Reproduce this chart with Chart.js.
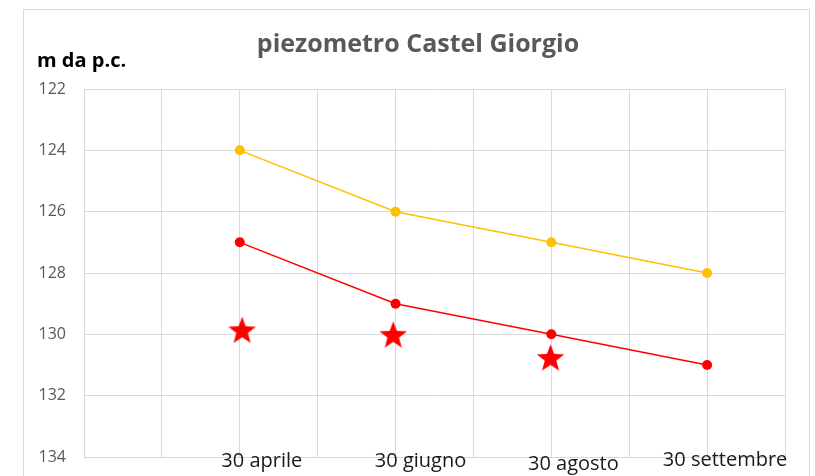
<!DOCTYPE html>
<html>
<head>
<meta charset="utf-8">
<script src="https://cdn.jsdelivr.net/npm/chart.js@4/dist/chart.umd.min.js"></script>
<style>
  html, body { margin: 0; padding: 0; background: #ffffff; }
  #wrap { width: 815px; height: 476px; }
</style>
</head>
<body>
<div id="wrap"><canvas id="c" width="815" height="476"></canvas></div>
<script>
// ---- data ----
const chartTitle = 'piezometro Castel Giorgio';
const yAxisLabel = 'm da p.c.';
const dateLabels = ['30 aprile', '30 giugno', '30 agosto', '30 settembre'];
const monthPos = [2, 4, 6, 8];               // x position (months) of each date
const seriesYellow = [124, 126, 127, 128];
const seriesRed = [127, 129, 130, 131];
const starPos = [2.03, 3.97, 5.99];
const starValues = [129.85, 130.0, 130.75];
const yTicks = [122, 124, 126, 128, 130, 132, 134];

// filled five-point star as point style
function makeStar(r, color) {
  const c = document.createElement('canvas');
  const s = Math.ceil(r * 2 + 2);
  c.width = s; c.height = s;
  const g = c.getContext('2d');
  const cx = s / 2, cy = s / 2 + r * 0.1;
  const ri = r * 0.42;
  g.beginPath();
  for (let i = 0; i < 10; i++) {
    const rr = i % 2 === 0 ? r : ri;
    const a = -Math.PI / 2 + i * Math.PI / 5;
    const px = cx + rr * Math.cos(a), py = cy + rr * Math.sin(a);
    if (i === 0) g.moveTo(px, py); else g.lineTo(px, py);
  }
  g.closePath();
  g.fillStyle = color;
  g.fill();
  return c;
}
const starImg = makeStar(14.5, '#ff0000');

const decor = {
  id: 'decor',
  beforeDraw(chart) {
    const ctx = chart.ctx;
    ctx.save();
    ctx.fillStyle = '#ffffff';
    ctx.fillRect(0, 0, chart.width, chart.height);
    ctx.strokeStyle = '#d9d9d9';
    ctx.lineWidth = 1;
    ctx.strokeRect(23.5, 9.5, 786, 480);
    ctx.restore();
  },
  afterDraw(chart) {
    const ctx = chart.ctx;
    const xs = chart.scales.x;
    ctx.save();
    // title
    ctx.fillStyle = '#595959';
    ctx.font = 'bold 25px "Open Sans"';
    ctx.textAlign = 'center';
    ctx.textBaseline = 'middle';
    ctx.fillText(chartTitle, 418, 45);
    // y axis label
    ctx.fillStyle = '#000000';
    ctx.font = 'bold 20px "Open Sans"';
    ctx.textAlign = 'left';
    ctx.textBaseline = 'alphabetic';
    ctx.fillText(yAxisLabel, 37, 67);
    // date labels
    ctx.font = '20px "Open Sans"';
    ctx.fillStyle = '#1a1a1a';
    ctx.textAlign = 'center';
    const dy = [0, 0, 3, -1];
    const dx = [22, 25, 22, 18];
    dateLabels.forEach((t, i) => {
      ctx.fillText(t, xs.getPixelForValue(monthPos[i]) + dx[i], 467 + dy[i]);
    });
    ctx.restore();
  }
};

new Chart(document.getElementById('c'), {
  type: 'line',
  data: {
    datasets: [
      {
        label: 'A',
        data: monthPos.map((x, i) => ({ x, y: seriesYellow[i] })),
        borderColor: '#ffc000',
        backgroundColor: '#ffc000',
        borderWidth: 1.5,
        pointRadius: 5,
        pointHoverRadius: 5,
        pointBorderWidth: 0
      },
      {
        label: 'B',
        data: monthPos.map((x, i) => ({ x, y: seriesRed[i] })),
        borderColor: '#ff0000',
        backgroundColor: '#ff0000',
        borderWidth: 1.5,
        pointRadius: 5,
        pointHoverRadius: 5,
        pointBorderWidth: 0
      },
      {
        label: 'C',
        data: starPos.map((x, i) => ({ x, y: starValues[i] })),
        showLine: false,
        pointStyle: starImg,
        borderColor: '#ff0000',
        backgroundColor: '#ff0000'
      }
    ]
  },
  options: {
    responsive: false,
    animation: false,
    devicePixelRatio: 1,
    layout: { padding: { left: 23, right: 30, top: 89, bottom: 19 } },
    plugins: {
      legend: { display: false },
      tooltip: { enabled: false },
      title: { display: false }
    },
    scales: {
      x: {
        type: 'linear',
        min: 0,
        max: 9,
        ticks: { display: false, stepSize: 1 },
        grid: { color: '#d9d9d9', lineWidth: 1, drawTicks: false },
        border: { display: false },
        afterFit(s) {
          s.height = 0;
          s.paddingTop = 0; s.paddingBottom = 0; s.paddingLeft = 0; s.paddingRight = 0;
        }
      },
      y: {
        reverse: true,
        min: 122,
        max: 134,
        afterBuildTicks(s) { s.ticks = yTicks.map(v => ({ value: v })); },
        ticks: {
          color: '#595959',
          font: { family: '"Open Sans"', size: 16 },
          padding: 18
        },
        grid: { color: '#d9d9d9', lineWidth: 1, drawTicks: false },
        border: { display: false },
        afterFit(s) {
          s.width = 61;
          s.paddingTop = 0; s.paddingBottom = 0; s.paddingLeft = 0; s.paddingRight = 0;
        }
      }
    }
  },
  plugins: [decor]
});
</script>
</body>
</html>
